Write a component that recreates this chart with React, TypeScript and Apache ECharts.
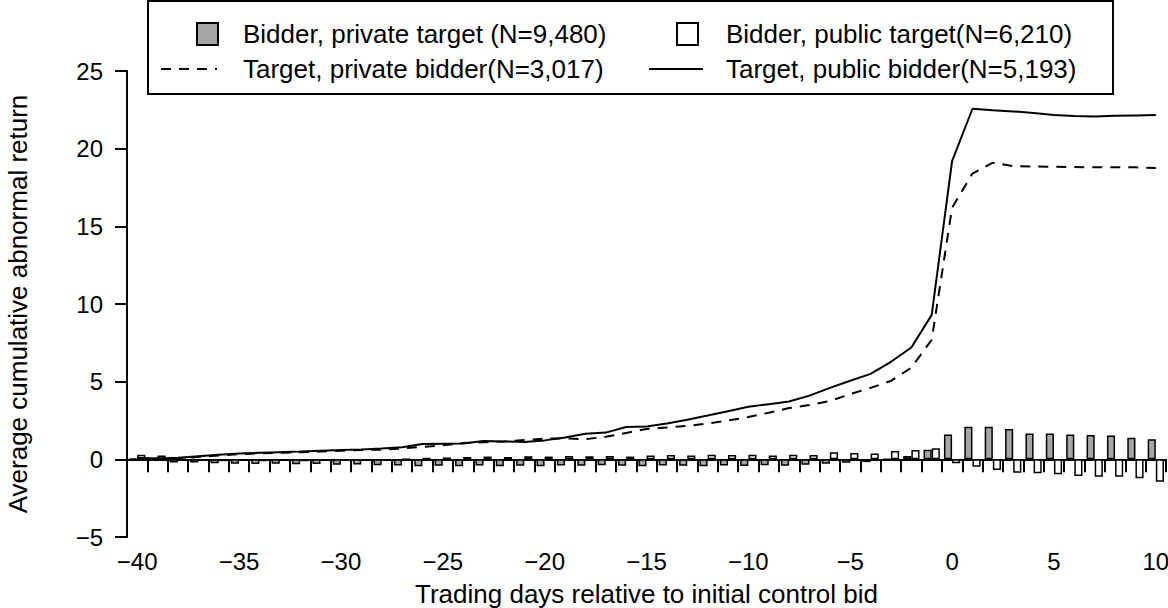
import React, { useEffect, useRef } from "react";
import * as echarts from "echarts";

const days: number[] = [];
for (let d = -40; d <= 10; d++) days.push(d);

const privateTargetBars = [
  0.05, 0.05, -0.2, -0.2, -0.25, -0.28, -0.3, -0.28, -0.32, -0.3,
  -0.35, -0.33, -0.38, -0.4, -0.45, -0.42, -0.45, -0.4, -0.45, -0.42,
  -0.45, -0.4, -0.42, -0.38, -0.42, -0.45, -0.4, -0.42, -0.45, -0.4,
  -0.43, -0.38, -0.42, -0.35, -0.28, -0.22, -0.18, 0.02, 0.22, 0.62,
  1.6, 2.1, 2.1, 1.95, 1.67, 1.67, 1.6, 1.57, 1.54, 1.39, 1.29,
];

const publicTargetBars = [
  0.3, 0.25, 0.0, -0.1, -0.12, -0.1, -0.12, -0.1, -0.12, -0.1,
  -0.08, -0.1, -0.05, 0.0, 0.1, 0.12, 0.15, 0.18, 0.15, 0.2,
  0.18, 0.22, 0.2, 0.22, 0.18, 0.25, 0.28, 0.25, 0.3, 0.28,
  0.3, 0.25, 0.3, 0.28, 0.45, 0.4, 0.38, 0.53, 0.6, 0.72,
  -0.26, -0.47, -0.69, -0.86, -0.9, -0.96, -1.07, -1.12, -1.12, -1.22, -1.44,
];

const privateBidderLine = [
  0.05, 0.05, 0.05, 0.15, 0.25, 0.33, 0.38, 0.42, 0.46, 0.5,
  0.55, 0.6, 0.62, 0.7, 0.8, 0.9, 1.05, 1.1, 1.15, 1.25,
  1.33, 1.35, 1.3, 1.45, 1.7, 1.95, 2.05, 2.15, 2.3, 2.5,
  2.72, 3.0, 3.3, 3.5, 3.75, 4.2, 4.6, 5.05, 5.9, 7.7,
  16.2, 18.4, 19.1, 18.88, 18.85, 18.83, 18.82, 18.8, 18.8, 18.8, 18.75,
];

const publicBidderLine = [
  0.1, 0.05, 0.1, 0.2, 0.3, 0.38, 0.42, 0.46, 0.5, 0.55,
  0.6, 0.64, 0.7, 0.78, 0.98, 1.0, 1.02, 1.18, 1.15, 1.12,
  1.22, 1.4, 1.65, 1.72, 2.08, 2.12, 2.3, 2.55, 2.82, 3.1,
  3.38, 3.55, 3.72, 4.1, 4.6, 5.06, 5.5, 6.28, 7.2, 9.3,
  19.2, 22.57, 22.48, 22.4, 22.29, 22.16, 22.1, 22.07, 22.12, 22.14, 22.16,
];

const seriesNames = [
  "Bidder, private target (N=9,480)",
  "Bidder, public target(N=6,210)",
  "Target, private bidder(N=3,017)",
  "Target, public bidder(N=5,193)",
];

const yAxisTitle = "Average cumulative abnormal return";
const xAxisTitle = "Trading days relative to initial control bid";

const FONT = "'Liberation Sans', Arial, sans-serif";

const fmt = (v: number | string) => {
  const n = Number(v);
  return n < 0 ? "\u2212" + Math.abs(n) : String(n);
};

export default function App() {
  const ref = useRef<HTMLDivElement>(null);
  useEffect(() => {
    if (!ref.current) return;
    const chart = echarts.init(ref.current, undefined, { renderer: "svg" });
    const tickText = { fontFamily: FONT, fontSize: 24, color: "#000" };
    const bigText = { fontFamily: FONT, fontSize: 26, color: "#000" };
    const hiddenSymbol = { opacity: 0, borderWidth: 0 };
    chart.setOption({
      animation: false,
      backgroundColor: "#fff",
      textStyle: { fontFamily: FONT },
      grid: {
        left: 127, right: 2, top: 71, bottom: 71,
        containLabel: false,
        outerBoundsMode: "none",
      },
      graphic: [
        {
          type: "rect",
          shape: { x: 148, y: 1, width: 965, height: 93 },
          style: { fill: "none", stroke: "#000", lineWidth: 2 },
          z: 0,
        },
      ],
      legend: [
        {
          data: [seriesNames[0]],
          left: 196, top: 21, padding: 0, itemWidth: 21, itemHeight: 22,
          icon: "rect",
          textStyle: { ...bigText, padding: [0, 0, 0, 20] },
          selectedMode: false,
        },
        {
          data: [seriesNames[1]],
          left: 676, top: 21, padding: 0, itemWidth: 21, itemHeight: 22,
          icon: "rect",
          textStyle: { ...bigText, padding: [0, 0, 0, 23] },
          selectedMode: false,
        },
        {
          data: [seriesNames[2]],
          left: 160, top: 56, padding: 0, itemWidth: 56, itemHeight: 22,
          itemStyle: hiddenSymbol,
          textStyle: { ...bigText, padding: [0, 0, 0, 21] },
          selectedMode: false,
        },
        {
          data: [seriesNames[3]],
          left: 648, top: 56, padding: 0, itemWidth: 54, itemHeight: 22,
          itemStyle: hiddenSymbol,
          textStyle: { ...bigText, padding: [0, 0, 0, 18] },
          selectedMode: false,
        },
      ],
      xAxis: [
        {
          type: "category",
          data: days,
          boundaryGap: true,
          axisLine: { onZero: true, lineStyle: { color: "#000", width: 2 } },
          axisTick: { show: true, interval: 0, length: 13, alignWithLabel: false, lineStyle: { color: "#000", width: 2 } },
          axisLabel: { show: false },
          splitLine: { show: false },
        },
        {
          type: "category",
          data: days,
          boundaryGap: true,
          position: "bottom",
          axisLine: { show: false, onZero: false },
          axisTick: { show: false },
          axisLabel: {
            show: true,
            interval: (_i: number, v: string) => Number(v) % 5 === 0,
            formatter: fmt,
            margin: 12,
            ...tickText,
          },
          name: xAxisTitle,
          nameLocation: "middle",
          nameGap: 44,
          nameTextStyle: bigText,
          splitLine: { show: false },
        },
      ],
      yAxis: {
        type: "value",
        min: -5,
        max: 25,
        interval: 5,
        axisLine: { show: true, lineStyle: { color: "#000", width: 2 } },
        axisTick: { show: true, length: 12, lineStyle: { color: "#000", width: 2 } },
        axisLabel: { formatter: fmt, margin: 24, ...tickText },
        splitLine: { show: false },
        name: yAxisTitle,
        nameLocation: "middle",
        nameRotate: 90,
        nameGap: 96,
        nameTextStyle: bigText,
      },
      series: [
        {
          name: seriesNames[0],
          type: "bar",
          xAxisIndex: 0,
          data: privateTargetBars,
          barGap: "0%",
          barCategoryGap: "20%",
          itemStyle: { color: "#a6a6a6", borderColor: "#000", borderWidth: 1.5 },
          z: 2,
        },
        {
          name: seriesNames[1],
          type: "bar",
          xAxisIndex: 0,
          data: publicTargetBars,
          barGap: "0%",
          barCategoryGap: "20%",
          itemStyle: { color: "#fff", borderColor: "#000", borderWidth: 1.5 },
          z: 2,
        },
        {
          name: seriesNames[2],
          type: "line",
          xAxisIndex: 0,
          data: privateBidderLine,
          symbol: "none",
          lineStyle: { color: "#000", width: 2, type: [10, 8] },
          itemStyle: { color: "#000" },
          z: 3,
        },
        {
          name: seriesNames[3],
          type: "line",
          xAxisIndex: 0,
          data: publicBidderLine,
          symbol: "none",
          lineStyle: { color: "#000", width: 2 },
          itemStyle: { color: "#000" },
          z: 3,
        },
      ],
    });
    return () => chart.dispose();
  }, []);
  return (
    <div
      ref={ref}
      style={{ position: "fixed", left: 0, top: 0, width: 1168, height: 608, background: "#fff" }}
    />
  );
}
